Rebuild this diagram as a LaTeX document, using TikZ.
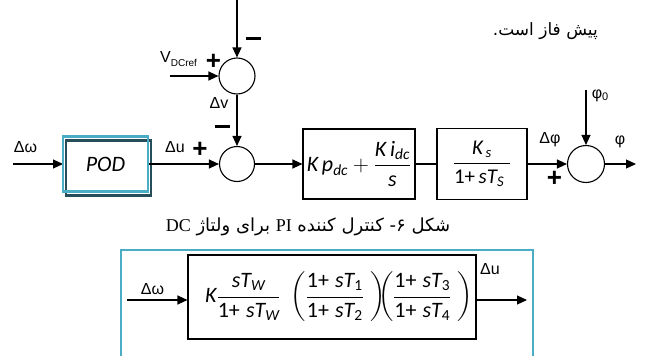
\documentclass[tikz,border=0pt]{standalone}
\usepackage{fix-cm}
\usepackage{amsmath}
\usepackage{fontspec}
\setmainfont{Liberation Sans}
\newfontfamily\carl{Carlito}
\newfontfamily\arab[Script=Arabic]{DejaVu Sans}
\newfontfamily\serifL{Liberation Serif}
\TeXXeTstate=1
\usetikzlibrary{arrows.meta}
\definecolor{aqua}{HTML}{4BACC6}
\definecolor{darkteal}{HTML}{264E5A}
\newcommand\mi[1]{\text{\carl\itshape #1}}
\newcommand\mup[1]{\text{\carl #1}}
\begin{document}
\begin{tikzpicture}[x=1pt,y=-1pt,
  sig/.style={line width=1.1pt},
  arr/.style={sig,-{Triangle[length=10pt,width=9pt]}},
  sumc/.style={circle,draw,line width=1.1pt,minimum size=36pt,inner sep=0pt},
  blk/.style={draw,line width=1.1pt,rectangle,inner sep=0pt},
  lbl/.style={font=\fontsize{16}{16}\selectfont,inner sep=0pt},
  sgn/.style={font=\fontsize{26}{26}\selectfont\bfseries,inner sep=0pt}]
\useasboundingbox (0,0) rectangle (649,356);

% top row
\node[sumc] (s1) at (237,76) {};
\node[sumc,minimum size=35pt] (s2) at (237,164) {};
\node[sumc,minimum size=37pt] (s3) at (586,164) {};
\node[blk,minimum width=112pt,minimum height=70pt] (kp) at (359,164)
  {\fontsize{22}{24}\selectfont$\mi{K\,p}_{\mi{dc}}+\dfrac{\mi{K\,i}_{\mi{dc}}}{\mi{s}}$};
\node[blk,minimum width=90pt,minimum height=71pt] (ks) at (482,164)
  {\fontsize{21}{24}\selectfont$\dfrac{\mi{K}_{\,\mi{s}}}{\mup{1+}\,\mi{s}\mi{T}_{\mi{S}}\;}$};

\coordinate (tin) at (237,0);
\coordinate (vin) at (170,76);
\coordinate (win) at (13,164);
\coordinate (p0) at (586,90);
\coordinate (pout) at (636,164);

\draw[arr] (tin) -- (s1);
\draw[arr] (vin) -- (s1);
\draw[arr] (s1) -- (s2);
\draw[arr] (win) -- (63,164);
\node[draw=darkteal,line width=2.2pt,minimum width=85pt,minimum height=55pt] (podsh) at (108.5,168) {};
\node[draw=aqua,line width=2.2pt,minimum width=85pt,minimum height=55pt,
  font=\fontsize{22}{22}\selectfont\carl\itshape] (pod) at (105.5,164) {POD};
\draw[arr] (pod.east) -- (s2);
\draw[arr] (s2) -- (kp);
\draw[sig] (kp) -- (ks);
\draw[arr] (ks) -- (s3);
\draw[arr] (p0) -- (s3);
\draw[arr] (s3) -- (pout);

% labels
\node[lbl] (l1) at (25.5,147.5) {Δω};
\node[lbl] (l2) at (175,147) {Δu};
\node[sgn] (g1) at (200,149.5) {+};
\node[sgn] (g2) at (222.5,126) {\rule{15pt}{3pt}};
\node[lbl] (l3) at (219,102.5) {Δv};
\node[lbl,anchor=base west] (l4) at (160,63) {V\raisebox{-3pt}{\fontsize{10}{10}\selectfont DCref}};
\node[sgn] (g3) at (213.5,61.5) {+};
\node[sgn] (g4) at (253.5,38) {\rule{15pt}{3pt}};
\node[lbl] (l5) at (550,140) {Δφ};
\node[sgn] (g5) at (554.5,178.5) {+};
\node[lbl] (l6) at (620,142) {φ};
\node[lbl] (l7) at (600,96) {φ\raisebox{-2pt}{\fontsize{11}{11}\selectfont 0}};

% Persian texts
\node[anchor=east,inner sep=0pt,font=\fontsize{17}{17}\selectfont\arab] (t1) at (598,31)
  {\beginR پیش فاز است.\endR};
\node[inner sep=0pt,font=\fontsize{18}{18}\selectfont\arab] (cap) at (308,227)
  {\beginR شکل ۶- کنترل کننده {\serifL\beginL PI\endL} برای ولتاژ {\serifL\beginL DC\endL}\endR};

% bottom
\draw[aqua,line width=2.2pt] (121,360) -- (121,250) -- (533,250) -- (533,360);
\node[blk,minimum width=288pt,minimum height=84pt] (pss) at (332,297)
  {\hspace*{14pt}\fontsize{22}{26}\selectfont$\mi{K}\dfrac{\;\mi{s}\mi{T}_{\mi{W}}\;}{\mup{1+}\;\mi{s}\mi{T}_{\mi{W}}}
   \;\left(\dfrac{\mup{1+}\;\mi{s}\mi{T}_{\mup{1}}}{\mup{1+}\;\mi{s}\mi{T}_{\mup{2}}}\;\right)\!\!\!
   \left(\dfrac{\mup{1+}\;\mi{s}\mi{T}_{\mup{3}}}{\mup{1+}\;\mi{s}\mi{T}_{\mup{4}}}\;\right)$};
\coordinate (bin) at (127,300);
\coordinate (bout) at (527,300);
\draw[arr] (bin) -- (bin -| pss.west);
\draw[arr] (bin -| pss.east) -- (bout);
\node[lbl] (l8) at (152.5,289) {Δω};
\node[lbl] (l9) at (490,269) {Δu};
\end{tikzpicture}
\end{document}
